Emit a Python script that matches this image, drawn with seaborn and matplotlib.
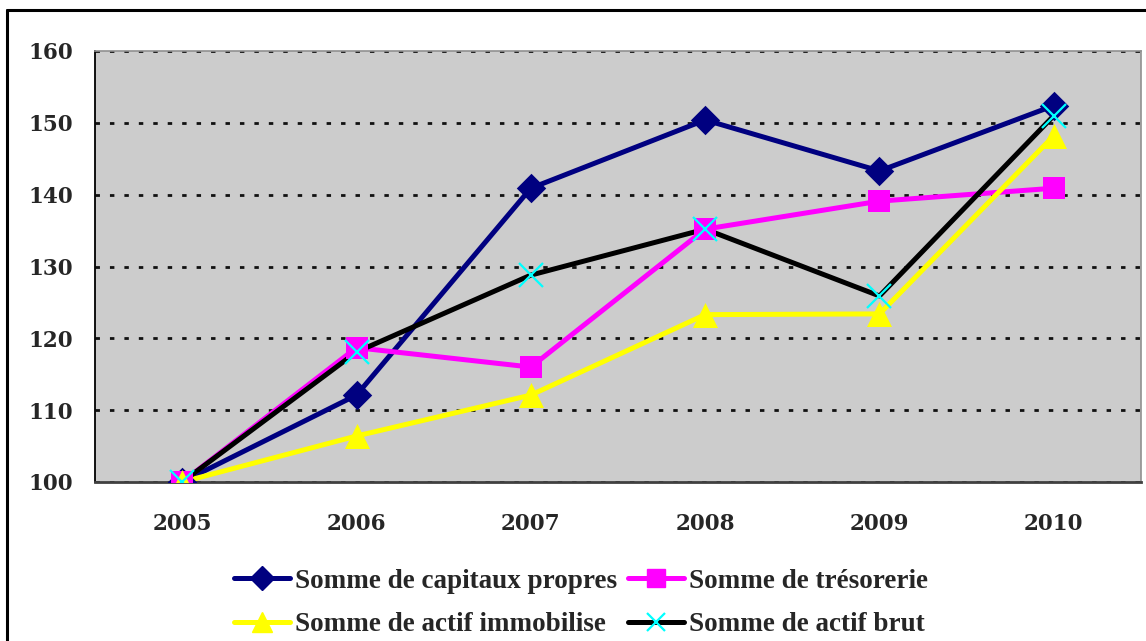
import numpy as np
import pandas as pd
import matplotlib
matplotlib.use("Agg")
import matplotlib.pyplot as plt
from matplotlib.lines import Line2D
import seaborn as sns

years = ["2005", "2006", "2007", "2008", "2009", "2010"]
capitaux_propres = [100, 112.1, 140.9, 150.4, 143.3, 152.4]
tresorerie = [100, 118.7, 116.0, 135.2, 139.1, 140.9]
actif_immobilise = [100, 106.4, 112.1, 123.3, 123.4, 148.2]
actif_brut = [100, 118.1, 128.8, 135.2, 125.9, 151.0]
y_ticks = [100, 110, 120, 130, 140, 150, 160]

series = [
    ("Somme de capitaux propres", capitaux_propres, "#000080", "D", "#000080", 15),
    ("Somme de trésorerie", tresorerie, "#FF00FF", "s", "#FF00FF", 16),
    ("Somme de actif immobilise", actif_immobilise, "#FFFF00", "^", "#FFFF00", 18),
    ("Somme de actif brut", actif_brut, "#000000", "x", "#00FFFF", 17),
]

sns.set_style("white")
plt.rcParams["font.family"] = ["DejaVu Serif"]

fig = plt.figure(figsize=(11.46, 6.41), dpi=100)
ax = fig.add_axes([95 / 1146, 1 - 482 / 641, (1141 - 95) / 1146, (482 - 51) / 641])
ax.set_facecolor("#CCCCCC")

x = np.arange(len(years))
handles = {}
for name, vals, col, mk, mcol, ms in series:
    df = pd.DataFrame({"x": x, "y": vals})
    sns.lineplot(data=df, x="x", y="y", ax=ax, color=col, linewidth=3.6, zorder=3)
    if mk == "x":
        ax.plot(x, vals, linestyle="none", marker="x", markersize=ms, markeredgewidth=1.6,
                color=mcol, zorder=4)
        h = Line2D([], [], color=col, linewidth=3.6, marker="x", markersize=ms * 0.8,
                   markeredgewidth=1.6, markeredgecolor=mcol)
    else:
        sns.scatterplot(data=df, x="x", y="y", ax=ax, marker=mk, s=ms ** 2, color=mcol,
                        edgecolor=mcol, linewidth=0, zorder=4)
        h = Line2D([], [], color=col, linewidth=3.6, marker=mk, markersize=ms * 0.8,
                   markerfacecolor=mcol, markeredgecolor=mcol)
    handles[name] = h

ax.set_xlim(-0.5, len(years) - 0.5)
ax.set_ylim(100, 160)
ax.set_yticks(y_ticks)
ax.set_yticklabels([str(t) for t in y_ticks], fontsize=15.5, fontweight="bold")
ax.set_xticks(x)
ax.set_xticklabels(years, fontsize=15.5, fontweight="bold")
ax.set_xticks(np.arange(-0.5, len(years), 1.0), minor=True)
ax.tick_params(axis="x", which="major", length=0, pad=22)
ax.tick_params(axis="x", which="minor", length=6, width=1.2, color="#202020", direction="out")
ax.tick_params(axis="y", length=6, width=1.2, color="#202020", direction="out", pad=10)
ax.set_xlabel("")
ax.set_ylabel("")

ax.grid(axis="y", color="#111111", linestyle=(0, (1.6, 3.6)), linewidth=2.0)
ax.grid(axis="x", visible=False)
ax.set_axisbelow(True)

ax.spines["left"].set_color("#000000")
ax.spines["left"].set_linewidth(1.3)
ax.spines["bottom"].set_color("#404040")
ax.spines["bottom"].set_linewidth(2.0)
for s in ("top", "right"):
    ax.spines[s].set_color("#909090")
    ax.spines[s].set_linewidth(1.2)
    ax.spines[s].set_visible(True)

order = ["Somme de capitaux propres", "Somme de actif immobilise",
         "Somme de trésorerie", "Somme de actif brut"]
fig.legend([handles[n] for n in order], order, loc="center", ncol=2,
           bbox_to_anchor=(581 / 1146, 1 - 603 / 641), frameon=False,
           prop={"family": "Liberation Serif", "weight": "bold", "size": 19.5},
           handlelength=2.07, handletextpad=0.2, columnspacing=0.37, labelspacing=0.68,
           borderpad=0)

# outer chart frame (only top and left edges fall inside the image)
fig.add_artist(Line2D([7 / 1146, 7 / 1146], [0, 1 - 10 / 641], transform=fig.transFigure,
                      color="black", linewidth=2.2))
fig.add_artist(Line2D([7 / 1146, 1], [1 - 10 / 641, 1 - 10 / 641], transform=fig.transFigure,
                      color="black", linewidth=2.2))

fig.savefig("out.png", dpi=100)
